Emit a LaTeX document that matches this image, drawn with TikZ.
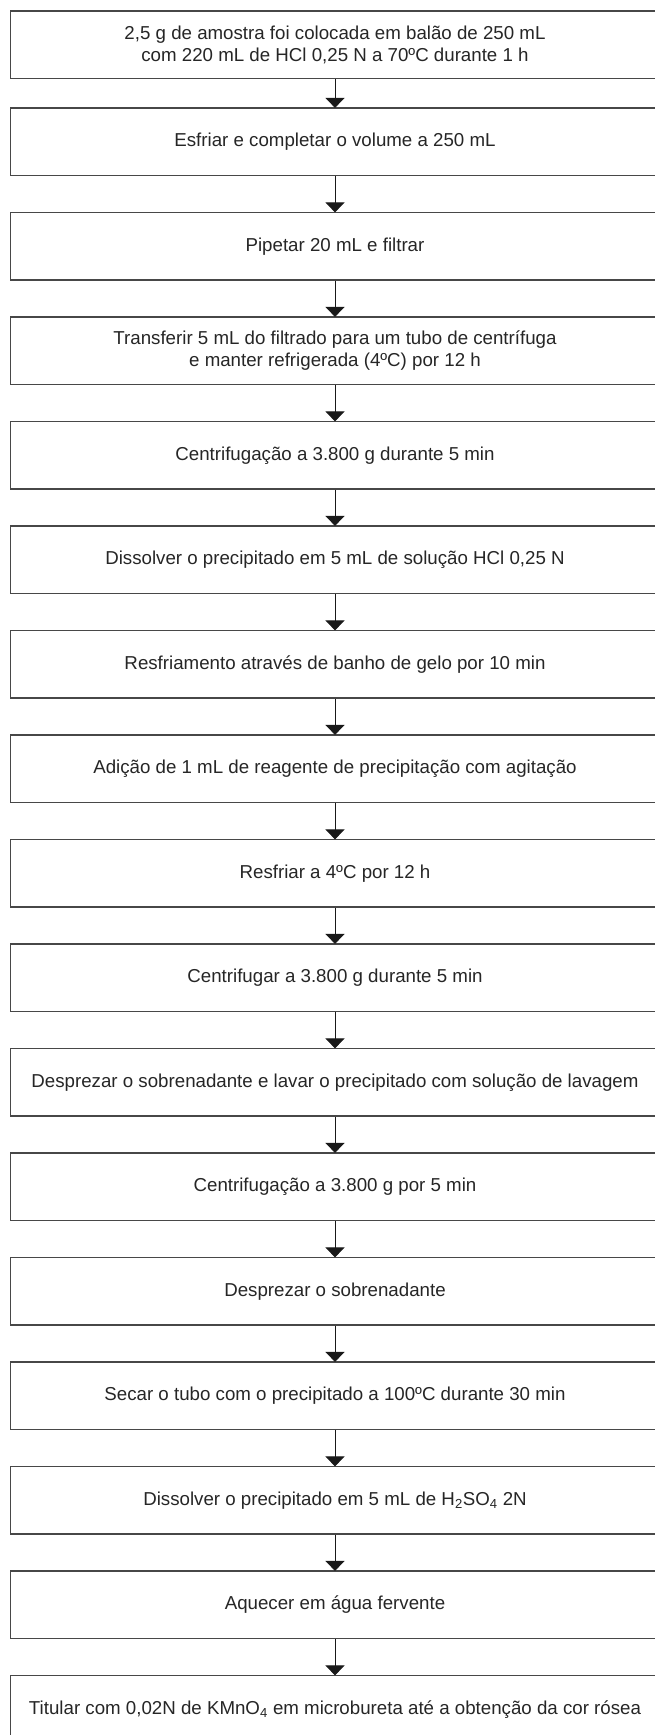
\documentclass[tikz,border=0pt]{standalone}
\usepackage{fontspec}
\setmainfont{Liberation Sans}
\usetikzlibrary{arrows.meta}
\tikzset{
  stepbox/.style={draw=black!72, line width=1.2pt, minimum width=648.6pt, minimum height=67.5pt,
    inner sep=0pt, align=center, text=black!85, font=\fontsize{18.7}{22}\selectfont},
  flow/.style={-{Triangle[width=19pt,length=10pt]}, line width=0.9pt, draw=black!90, shorten >=-0.5pt}
}
\begin{document}
\begin{tikzpicture}
\useasboundingbox (0,0) rectangle (655pt,-1735pt);
\clip (0,0) rectangle (655pt,-1735pt);
\fill[white] (0,0) rectangle (655pt,-1735pt);
\node[stepbox] (b1) at (335pt,-44.75pt) {2,5 g de amostra foi colocada em balão de 250 mL\\com 220 mL de HCl 0,25 N a 70ºC durante 1 h};
\node[stepbox] (b2) at (335pt,-141.75pt) {Esfriar e completar o volume a 250 mL};
\node[stepbox] (b3) at (335pt,-246.25pt) {Pipetar 20 mL e filtrar};
\node[stepbox] (b4) at (335pt,-350.75pt) {Transferir 5 mL do filtrado para um tubo de centrífuga\\e manter refrigerada (4ºC) por 12 h};
\node[stepbox] (b5) at (335pt,-455.25pt) {Centrifugação a 3.800 g durante 5 min};
\node[stepbox] (b6) at (335pt,-559.75pt) {Dissolver o precipitado em 5 mL de solução HCl 0,25 N};
\node[stepbox] (b7) at (335pt,-664.25pt) {Resfriamento através de banho de gelo por 10 min};
\node[stepbox] (b8) at (335pt,-768.75pt) {Adição de 1 mL de reagente de precipitação com agitação};
\node[stepbox] (b9) at (335pt,-873.25pt) {Resfriar a 4ºC por 12 h};
\node[stepbox] (b10) at (335pt,-977.75pt) {Centrifugar a 3.800 g durante 5 min};
\node[stepbox] (b11) at (335pt,-1082.25pt) {Desprezar o sobrenadante e lavar o precipitado com solução de lavagem};
\node[stepbox] (b12) at (335pt,-1186.75pt) {Centrifugação a 3.800 g por 5 min};
\node[stepbox] (b13) at (335pt,-1291.25pt) {Desprezar o sobrenadante};
\node[stepbox] (b14) at (335pt,-1395.75pt) {Secar o tubo com o precipitado a 100ºC durante 30 min};
\node[stepbox] (b15) at (335pt,-1500.25pt) {Dissolver o precipitado em 5 mL de H\textsubscript{2}SO\textsubscript{4} 2N};
\node[stepbox] (b16) at (335pt,-1604.75pt) {Aquecer em água fervente};
\node[stepbox] (b17) at (335pt,-1709.25pt) {Titular com 0,02N de KMnO\textsubscript{4} em microbureta até a obtenção da cor rósea};
\foreach \a/\b in {b1/b2,b2/b3,b3/b4,b4/b5,b5/b6,b6/b7,b7/b8,b8/b9,b9/b10,b10/b11,b11/b12,b12/b13,b13/b14,b14/b15,b15/b16,b16/b17}
  \draw[flow] (\a.south) -- (\b.north);
\end{tikzpicture}
\end{document}
